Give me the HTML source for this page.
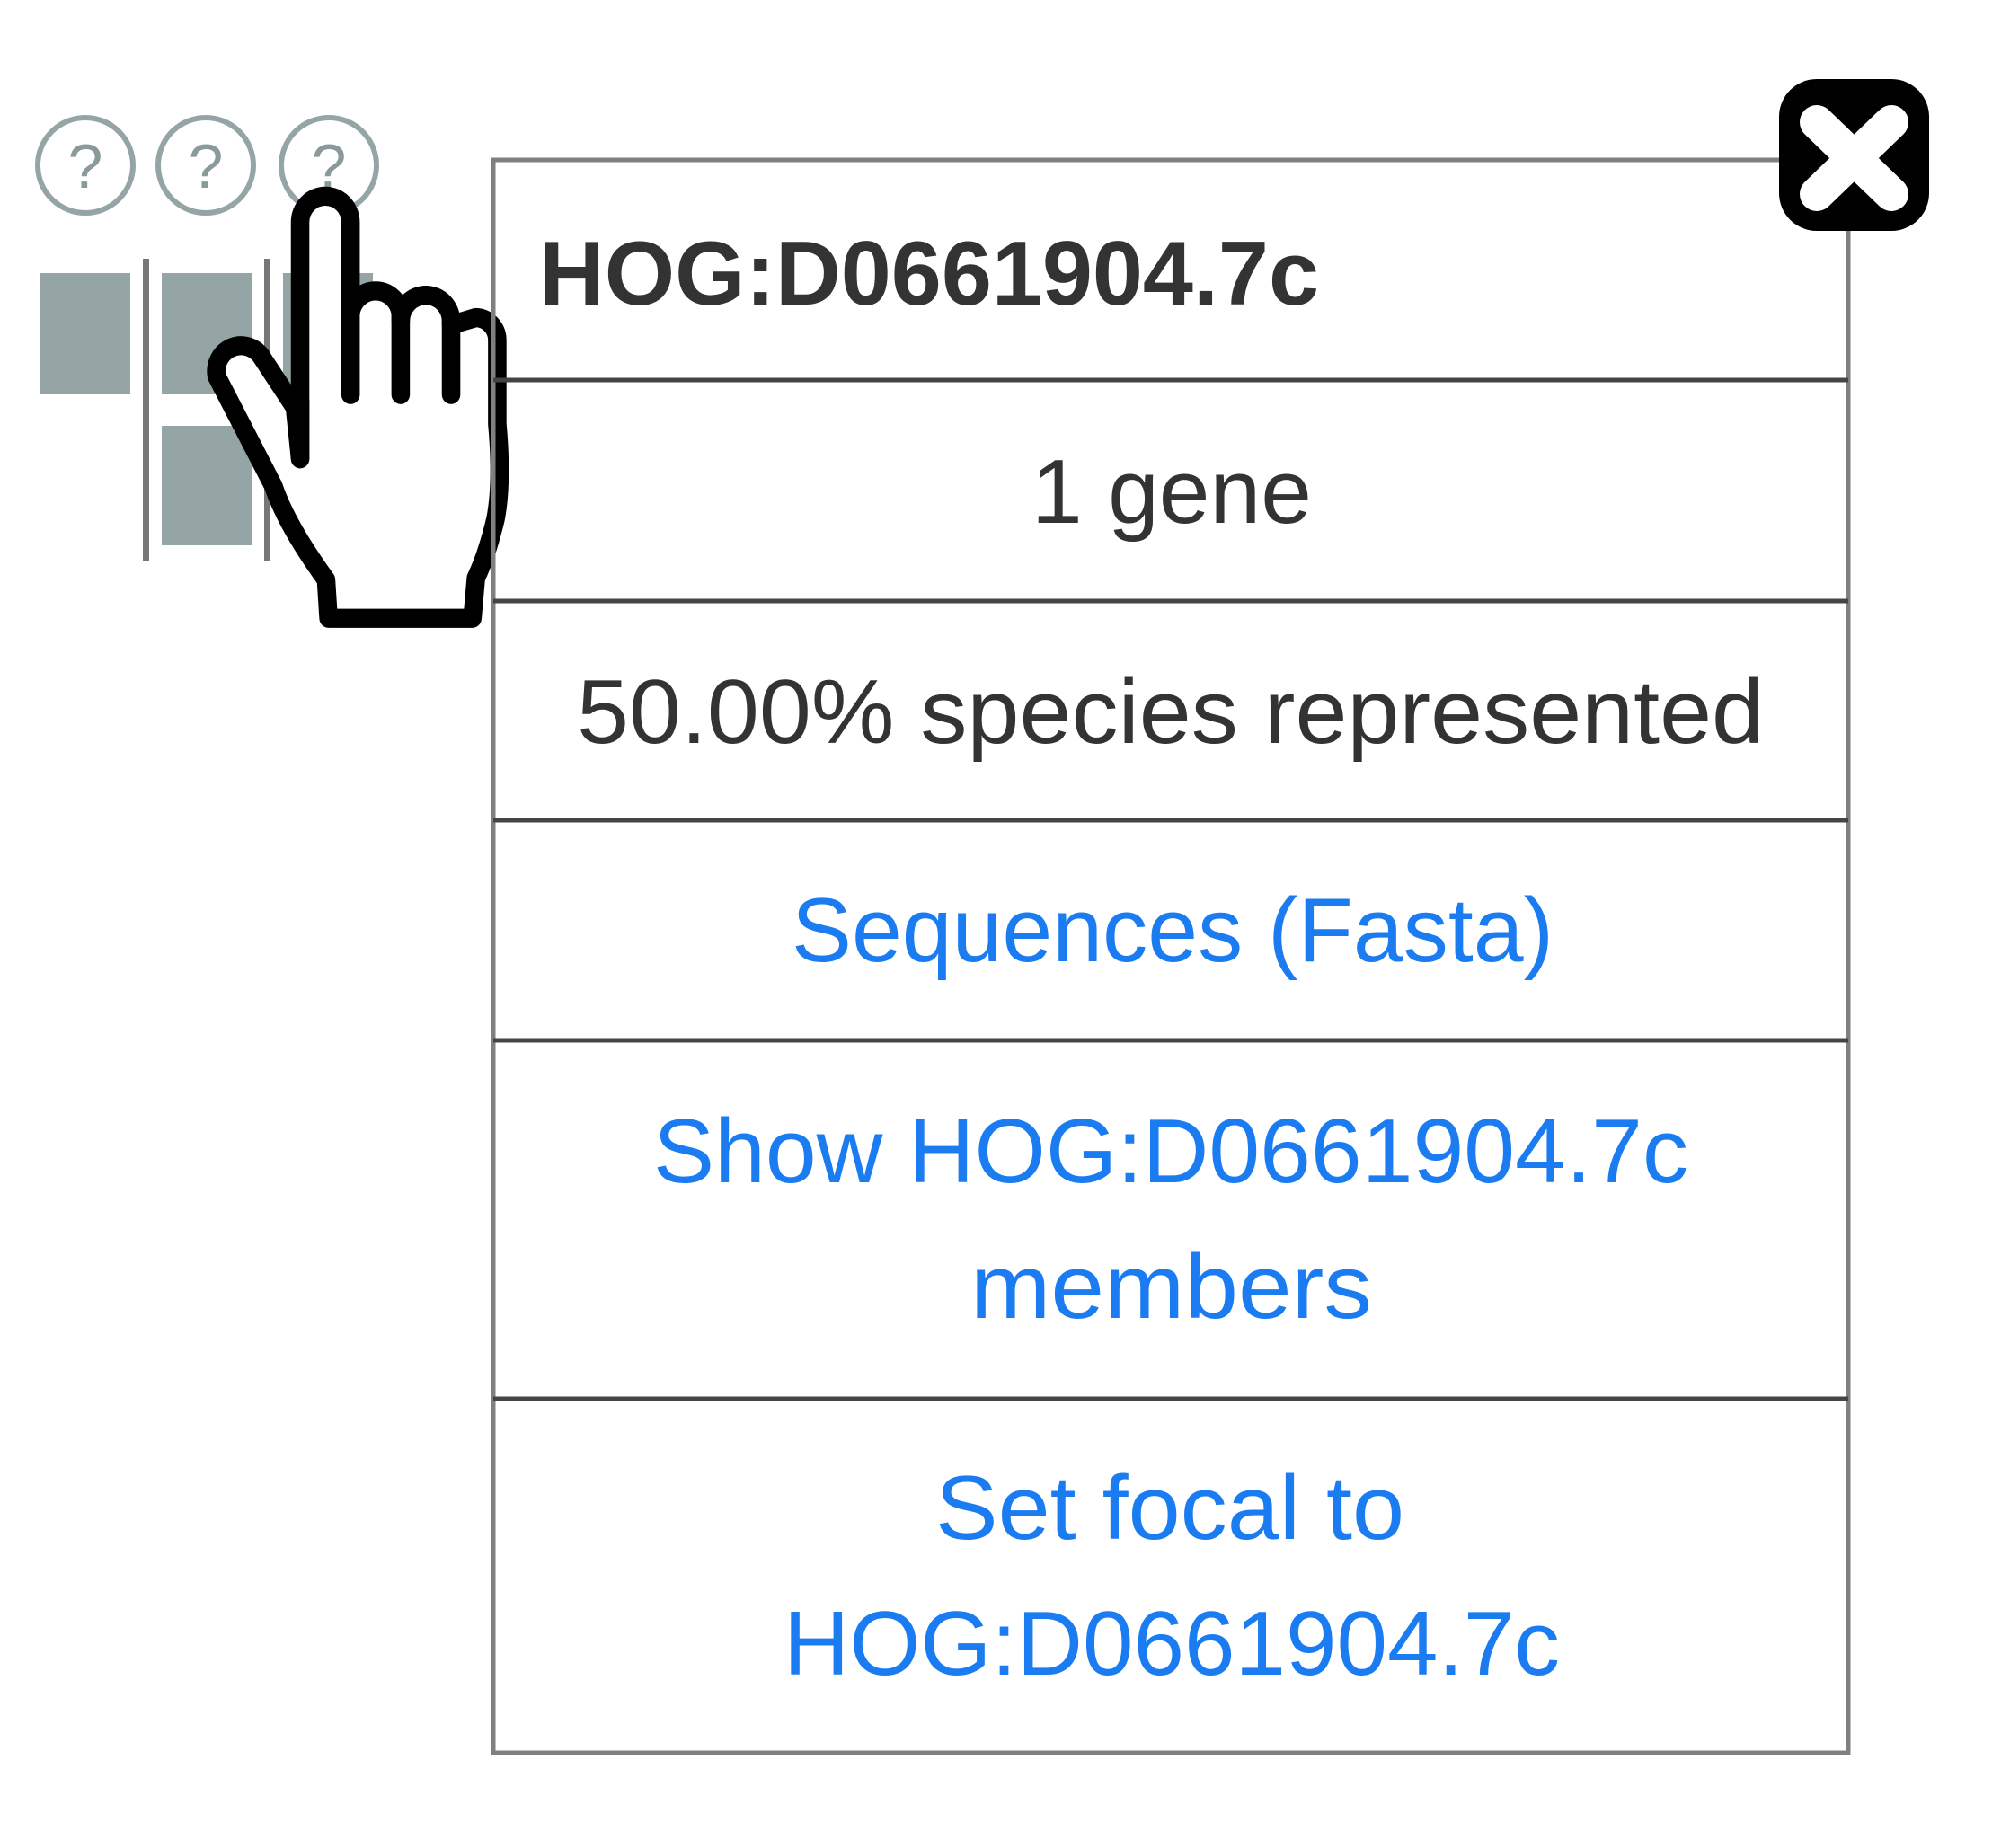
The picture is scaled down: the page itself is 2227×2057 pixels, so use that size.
<!DOCTYPE html>
<html><head><meta charset="utf-8"><style>
html,body{margin:0;padding:0;background:#fff;}
svg{display:block;}
text{font-family:"Liberation Sans",sans-serif;}
</style></head><body>
<svg width="2227" height="2057" viewBox="0 0 2227 2057" xmlns="http://www.w3.org/2000/svg">
<rect width="2227" height="2057" fill="#fff"/>
<g fill="none" stroke="#95a5a6" stroke-width="6">
<circle cx="95" cy="184" r="53"/>
<circle cx="229" cy="184" r="53"/>
<circle cx="366" cy="184" r="53"/>
</g>
<g fill="#8a9a9b" font-size="70" text-anchor="middle">
<text x="95" y="209">?</text>
<text x="229" y="209">?</text>
<text x="366" y="209">?</text>
</g>
<g fill="#95a5a6">
<rect x="44" y="304" width="101" height="135"/>
<rect x="180" y="304" width="101" height="135"/>
<rect x="315" y="304" width="100" height="135"/>
<rect x="180" y="474" width="101" height="133"/>
</g>
<g fill="#777">
<rect x="159" y="288" width="7" height="337"/>
<rect x="294" y="288" width="7" height="337"/>
</g>
<g transform="translate(0,80) scale(0.3953,0.4082)">
<path d="M845,1055 L845,410 A71,71 0 0 1 987,410 L987,660 A71,71 0 0 1 1128,660 L1128,680 A71,71 0 0 1 1270,680 L1270,690 L1340,670 A62,62 0 0 1 1400,730 L1400,960 Q1415,1120 1395,1220 Q1370,1320 1340,1380 L1330,1490 L925,1490 L918,1385 Q840,1280 800,1200 Q780,1160 770,1130 L610,830 A70,70 0 0 1 735,775 L830,915 Z" fill="#fff" stroke="#000" stroke-width="52" stroke-linejoin="round"/>
<g stroke="#000" stroke-width="52" stroke-linecap="round" fill="none">
<line x1="845" y1="900" x2="845" y2="1055"/>
<line x1="987" y1="640" x2="987" y2="880"/>
<line x1="1128" y1="660" x2="1128" y2="880"/>
<line x1="1270" y1="680" x2="1270" y2="880"/>
</g>
</g>
<rect x="549" y="178" width="1508" height="1773" fill="none" stroke="#808080" stroke-width="5"/>
<g stroke="#444" stroke-width="5">
<line x1="549" y1="423" x2="2057" y2="423"/>
<line x1="549" y1="669" x2="2057" y2="669"/>
<line x1="549" y1="913" x2="2057" y2="913"/>
<line x1="549" y1="1158" x2="2057" y2="1158"/>
<line x1="549" y1="1557" x2="2057" y2="1557"/>
</g>
<text x="600" y="339" font-size="101" font-weight="bold" fill="#333" textLength="868" lengthAdjust="spacingAndGlyphs">HOG:D0661904.7c</text>
<text x="1148" y="582" font-size="101" fill="#333" textLength="312" lengthAdjust="spacingAndGlyphs">1 gene</text>
<text x="642" y="827" font-size="101" fill="#333" textLength="1321" lengthAdjust="spacingAndGlyphs">50.00% species represented</text>
<g fill="#1a7cf0" font-size="101">
<text x="881" y="1070" textLength="848" lengthAdjust="spacingAndGlyphs">Sequences (Fasta)</text>
<text x="727" y="1316" textLength="1152" lengthAdjust="spacingAndGlyphs">Show HOG:D0661904.7c</text>
<text x="1080" y="1467" textLength="447" lengthAdjust="spacingAndGlyphs">members</text>
<text x="1041" y="1713" textLength="522" lengthAdjust="spacingAndGlyphs">Set focal to</text>
<text x="872" y="1864" textLength="864" lengthAdjust="spacingAndGlyphs">HOG:D0661904.7c</text>
</g>
<rect x="1980" y="88" width="167" height="169" rx="42" fill="#000"/>
<g stroke="#fff" stroke-width="38" stroke-linecap="round">
<line x1="2022" y1="136" x2="2105" y2="216"/>
<line x1="2105" y1="136" x2="2022" y2="216"/>
</g>
</svg>
</body></html>
